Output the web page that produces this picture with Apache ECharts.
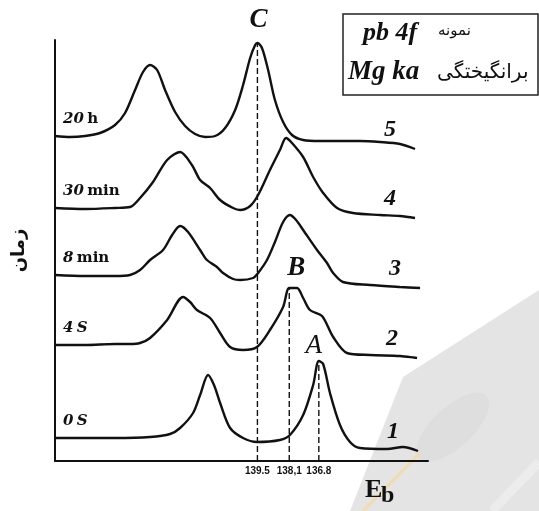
<!DOCTYPE html>
<html><head><meta charset="utf-8">
<script src="https://cdn.jsdelivr.net/npm/echarts@6/dist/echarts.min.js"></script>
<style>html,body{margin:0;padding:0;background:#fff}#c{width:539px;height:511px}</style>
</head><body><div id="c"></div>
<script>
// ---- data (binding energy eV, stacked intensity a.u.) ----
const curveNames = ['0 S', '4 S', '8 min', '30 min', '20 h'];
const curveNumbers = ['1', '2', '3', '4', '5'];
const curve0s = [[148.40,23],[147.08,23],[145.76,23],[144.22,24],[143.34,27],[142.90,33],[142.33,48],[142.02,66],[141.67,86],[141.41,76],[141.14,58],[140.70,33],[140.13,23],[139.52,19],[138.51,21],[138.07,26],[137.49,46],[137.05,76],[136.80,100],[136.61,97],[136.31,68],[135.87,36],[135.43,19],[134.99,13],[133.80,12],[133.10,14],[132.44,10]];
const curve4s = [[148.40,116],[147.08,116],[145.76,117],[145.10,117],[144.66,118],[144.22,123],[143.47,141],[142.77,164],[142.46,159],[142.16,151],[141.58,143],[141.14,128],[140.70,114],[140.13,111],[139.52,114],[138.95,131],[138.37,154],[138.10,173],[137.76,173],[137.49,163],[137.19,151],[136.66,145],[136.17,124],[135.56,108],[134.55,106],[133.23,105],[132.48,103]];
const curve8min = [[148.40,186],[147.08,185],[145.76,185],[145.10,186],[144.66,191],[144.22,201],[143.65,211],[143.25,226],[142.90,235],[142.55,229],[142.02,211],[141.72,201],[141.28,194],[141.01,188],[140.57,182],[140.26,181],[139.69,183],[139.47,188],[139.08,201],[138.73,219],[138.37,239],[138.07,246],[137.80,241],[137.49,231],[136.88,211],[136.44,198],[136.17,188],[135.74,179],[134.55,176],[133.23,174],[132.35,173]];
const curve30min = [[148.40,253],[147.08,252],[145.76,253],[145.10,254],[144.66,263],[144.09,279],[143.47,301],[142.90,309],[142.38,296],[142.02,281],[141.58,273],[141.14,261],[140.57,253],[140.26,251],[139.82,255],[139.47,266],[138.95,291],[138.51,311],[138.24,323],[137.98,318],[137.49,304],[137.05,284],[136.61,268],[136.00,253],[135.30,248],[134.11,246],[133.23,245],[132.57,243]];
const curve20h = [[148.40,325],[147.74,324],[147.08,325],[146.42,328],[145.76,336],[145.32,348],[144.88,371],[144.53,389],[144.22,396],[143.91,391],[143.56,371],[143.12,349],[142.68,335],[142.24,327],[141.80,324],[141.36,325],[140.92,333],[140.48,351],[140.13,376],[139.82,403],[139.60,416],[139.50,418],[139.30,413],[139.03,391],[138.73,361],[138.37,339],[137.98,326],[137.49,321],[136.75,320],[135.87,320],[134.99,320],[134.11,319],[133.23,317],[132.57,312]];
const peakLetters = ['C', 'B', 'A'];
const peakEnergies = [139.5, 138.1, 136.8];
const peakHeights = [418, 173, 100];
const tickValues = [139.5, 138.1, 136.8];
const tickLabels = ['139.5', '138,1', '136.8'];
const legendRows = [['pb 4f', 'نمونه'], ['Mg ka', 'برانگیختگی']];
const yAxisTitle = 'زمان';
const xAxisTitle = ['E', 'b'];

const curves = [curve0s, curve4s, curve8min, curve30min, curve20h];
const INK = '#111';
const chart = echarts.init(document.getElementById('c'));

const series = [];
curves.forEach((d, i) => {
  series.push({
    type: 'line', name: curveNames[i], data: d, smooth: 0.3, symbol: 'none',
    lineStyle: { color: INK, width: 2.4 }, z: 3, silent: true
  });
});
peakEnergies.forEach((e, i) => {
  series.push({
    type: 'line', data: [[e, 0], [e, peakHeights[i]]], symbol: 'none',
    lineStyle: { color: INK, width: 1.4, type: [6, 3] }, z: 2, silent: true
  });
});

chart.setOption({
  animation: false,
  backgroundColor: '#fff',
  grid: { left: 55, right: 111, top: 40, bottom: 50 },
  xAxis: {
    type: 'value', min: 132, max: 148.4, inverse: true,
    axisLine: { lineStyle: { color: INK, width: 2 } },
    axisTick: { show: false }, splitLine: { show: false },
    axisLabel: {
      customValues: tickValues,
      formatter: v => { const k = tickValues.findIndex(t => Math.abs(t - v) < 1e-6); return k >= 0 ? tickLabels[k] : ''; },
      fontFamily: 'Liberation Sans', fontSize: 10, color: INK, margin: 5, fontWeight: 'bold'
    }
  },
  yAxis: {
    type: 'value', min: 0, max: 421,
    name: yAxisTitle, nameLocation: 'middle', nameRotate: 90, nameGap: 27,
    nameTextStyle: { fontFamily: 'DejaVu Sans', fontWeight: 'bold', fontSize: 18, color: INK },
    axisLine: { show: true, lineStyle: { color: INK, width: 2 } },
    axisTick: { show: false }, axisLabel: { show: false }, splitLine: { show: false }
  },
  series: series
});

// ---- annotations positioned from data ----
const g = [];
// watermark (background decoration)
g.push({ type: 'polygon', z: -5, shape: { points: [[403,377],[539,290],[539,511],[350,511]] }, style: { fill: '#e4e4e4' } });
g.push({ type: 'ellipse', z: -4, x: 453, y: 427, rotation: 0.75, shape: { cx: 0, cy: 0, rx: 46, ry: 20 }, style: { fill: '#dedede' } });
g.push({ type: 'line', z: -4, shape: { x1: 539, y1: 462, x2: 492, y2: 511 }, style: { stroke: '#ececec', lineWidth: 9 } });
g.push({ type: 'line', z: -3, shape: { x1: 420, y1: 453, x2: 363, y2: 511 }, style: { stroke: '#f3dcab', lineWidth: 3 } });

curves.forEach((d, i) => {
  const p0 = chart.convertToPixel({ gridIndex: 0 }, d[0]);
  const parts = curveNames[i].split(' ');
  const unitItalic = parts[1] === 'S';
  g.push({
    type: 'text', z: 10, x: p0[0] + 8, y: p0[1] - 17,
    style: {
      text: '{n|' + parts[0] + '} {' + (unitItalic ? 'n' : 'u') + '|' + parts[1] + '}',
      verticalAlign: 'middle', align: 'left',
      rich: {
        n: { fontFamily: 'DejaVu Serif', fontStyle: 'italic', fontWeight: 'bold', fontSize: 15, fill: INK },
        u: { fontFamily: 'DejaVu Serif', fontWeight: 'bold', fontSize: 15, fill: INK }
      }
    }
  });
  const pe = chart.convertToPixel({ gridIndex: 0 }, d[d.length - 1]);
  g.push({
    type: 'text', z: 10, x: pe[0] - 25, y: pe[1] - 19,
    style: { text: curveNumbers[i], align: 'center', verticalAlign: 'middle',
      fontFamily: 'Liberation Serif', fontStyle: 'italic', fontWeight: 'bold', fontSize: 24, fill: INK }
  });
});

// peak letters, positioned from the peak data
const letterOffsets = [[1, -23], [7, -20], [-5, -15]];
const letterWeights = ['bold', 'bold', 'normal'];
peakEnergies.forEach((e, i) => {
  const p = chart.convertToPixel({ gridIndex: 0 }, [e, peakHeights[i]]);
  g.push({
    type: 'text', z: 12, x: p[0] + letterOffsets[i][0], y: p[1] + letterOffsets[i][1],
    style: { text: peakLetters[i], align: 'center', verticalAlign: 'middle',
      fontFamily: 'Liberation Serif', fontStyle: 'italic', fontWeight: letterWeights[i], fontSize: 27, fill: INK }
  });
});

// legend box
g.push({ type: 'rect', z: 10, shape: { x: 343, y: 14, width: 195, height: 81 }, style: { fill: '#fff', stroke: '#222', lineWidth: 1.5 } });
g.push({ type: 'text', z: 11, x: 363, y: 33, style: { text: legendRows[0][0], verticalAlign: 'middle', fontFamily: 'Liberation Serif', fontStyle: 'italic', fontWeight: 'bold', fontSize: 26, fill: INK } });
g.push({ type: 'text', z: 11, x: 438, y: 31, style: { text: legendRows[0][1], verticalAlign: 'middle', fontFamily: 'DejaVu Sans', fontSize: 15, fill: INK } });
g.push({ type: 'text', z: 11, x: 437, y: 73, style: { text: legendRows[1][1], verticalAlign: 'middle', fontFamily: 'DejaVu Sans', fontSize: 20, fill: INK } });
g.push({ type: 'text', z: 11, x: 348, y: 72, style: { text: legendRows[1][0], verticalAlign: 'middle', fontFamily: 'Liberation Serif', fontStyle: 'italic', fontWeight: 'bold', fontSize: 27, fill: INK } });

// x-axis title E_b
g.push({ type: 'text', z: 11, x: 365, y: 477, style: { text: xAxisTitle[0], fontFamily: 'Liberation Serif', fontWeight: 'bold', fontSize: 26, fill: INK } });
g.push({ type: 'text', z: 11, x: 381, y: 484, style: { text: xAxisTitle[1], fontFamily: 'Liberation Serif', fontWeight: 'bold', fontSize: 24, fill: INK } });

chart.setOption({ graphic: g });
</script>
</body></html>
